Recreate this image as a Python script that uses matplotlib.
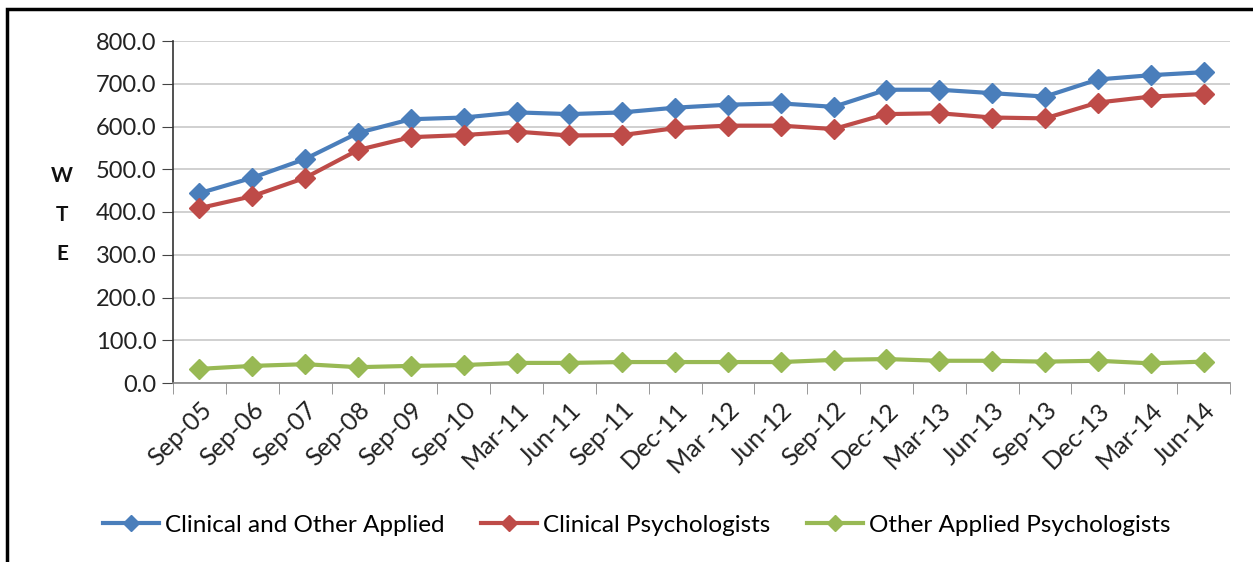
import matplotlib
matplotlib.use("Agg")
import matplotlib.pyplot as plt
from matplotlib.patches import Rectangle
import numpy as np

categories = ["Sep-05", "Sep-06", "Sep-07", "Sep-08", "Sep-09", "Sep-10", "Mar-11", "Jun-11",
              "Sep-11", "Dec-11", "Mar -12", "Jun-12", "Sep-12", "Dec-12", "Mar-13", "Jun-13",
              "Sep-13", "Dec-13", "Mar-14", "Jun-14"]
clinical_and_other = [444, 480, 524, 585, 617, 621, 633, 629, 633, 644, 651, 654, 646, 686, 686,
                      678, 670, 710, 720, 727]
clinical_psych = [409, 437, 480, 545, 575, 580, 588, 579, 580, 596, 602, 602, 594, 629, 631,
                  621, 619, 656, 670, 676]
other_applied = [33, 40, 44, 37, 40, 42, 47, 47, 49, 49, 49, 49, 54, 56, 52, 52, 50, 52, 46, 50]
series_names = ["Clinical and Other Applied", "Clinical Psychologists", "Other Applied Psychologists"]
yticks = [0, 100, 200, 300, 400, 500, 600, 700, 800]

plt.rcParams['font.family'] = ['Lato', 'DejaVu Sans']

fig = plt.figure(figsize=(12.53, 5.62), dpi=100)
ax = fig.add_axes([173/1253, 1 - 383/562, (1230 - 173)/1253, (383 - 41)/562])

x = np.arange(len(categories))
colors = ["#4A7EBB", "#BE4B48", "#98B954"]
for vals, name, c in zip([clinical_and_other, clinical_psych, other_applied], series_names, colors):
    ax.plot(x, vals, color=c, lw=3, marker='D', markersize=10, label=name, zorder=3)

ax.set_xlim(-0.5, len(categories) - 0.5)
ax.set_ylim(0, 800)
ax.set_yticks(yticks)
ax.set_yticklabels([f"{v:.1f}" for v in yticks], fontsize=17, color="#222222")
ax.set_xticks(x)
ax.set_xticklabels(categories, rotation=45, ha='right', rotation_mode='anchor', fontsize=18, color="#222222")
ax.set_xticks(np.arange(-0.5, len(categories)), minor=True)
ax.tick_params(axis='x', which='major', length=0, pad=11)
ax.tick_params(axis='x', which='minor', length=8, color="#888888", direction='out')
ax.tick_params(axis='y', length=8, color="#444444", direction='out', pad=4)
ax.grid(axis='y', color="#C8C8C8", lw=1.2, zorder=0)
ax.set_axisbelow(True)
for s in ['top', 'right']:
    ax.spines[s].set_visible(False)
ax.spines['left'].set_color("#333333")
ax.spines['bottom'].set_color("#888888")
ax.spines['left'].set_linewidth(1.2)
ax.spines['bottom'].set_linewidth(1.2)

fig.text(62/1253, 1 - 215/562, "W\nT\nE", ha='center', va='center', fontsize=15, fontweight='bold',
         linespacing=2.2, color="#111111")

fig.legend(*ax.get_legend_handles_labels(), loc='center', bbox_to_anchor=(637/1253, 1 - 525/562),
           ncol=3, frameon=False, fontsize=17.5, handlelength=2.3, columnspacing=1.5,
           handletextpad=0.25, markerscale=0.8)

fig.patches.append(Rectangle((7/1253, -0.05), 1.1, 1 - 9/562 + 0.05, transform=fig.transFigure,
                             fill=False, edgecolor='black', lw=2.5))

fig.savefig("out.png", dpi=100)
